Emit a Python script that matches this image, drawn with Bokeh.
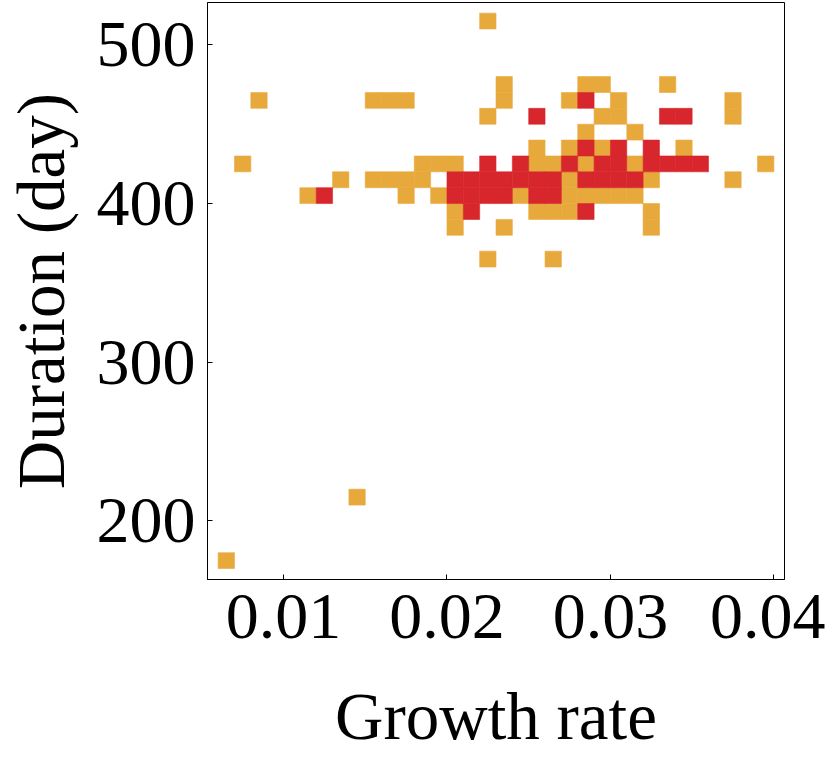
from bokeh.plotting import figure
from bokeh.models import FixedTicker, ColumnDataSource
from bokeh.embed import file_html
from bokeh.resources import INLINE

# Bin size of the 2D histogram
bin_rate = 0.001
bin_days = 10

# Cells with a single count (orange): bin centres
one_rate = [0.0225,
            0.0235, 0.0285, 0.0295, 0.0335,
            0.0085, 0.0155, 0.0165, 0.0175, 0.0235, 0.0275, 0.0305, 0.0375,
            0.0225, 0.0295, 0.0305, 0.0375,
            0.0285, 0.0315,
            0.0255, 0.0275, 0.0295, 0.0345,
            0.0075, 0.0185, 0.0195, 0.0205, 0.0255, 0.0265, 0.0285, 0.0315, 0.0395,
            0.0135, 0.0155, 0.0165, 0.0175, 0.0185, 0.0275, 0.0325, 0.0375,
            0.0115, 0.0175, 0.0195, 0.0245, 0.0275, 0.0285, 0.0295, 0.0305, 0.0315,
            0.0205, 0.0255, 0.0265, 0.0275, 0.0325,
            0.0205, 0.0235, 0.0325,
            0.0225, 0.0265,
            0.0145,
            0.0065]
one_days = [515,
            475, 475, 475, 475,
            465, 465, 465, 465, 465, 465, 465, 465,
            455, 455, 455, 455,
            445, 445,
            435, 435, 435, 435,
            425, 425, 425, 425, 425, 425, 425, 425, 425,
            415, 415, 415, 415, 415, 415, 415, 415,
            405, 405, 405, 405, 405, 405, 405, 405, 405,
            395, 395, 395, 395, 395,
            385, 385, 385,
            365, 365,
            215,
            175]

# Cells with higher counts (red): bin centres
two_rate = [0.0285,
            0.0255, 0.0335, 0.0345,
            0.0285, 0.0305, 0.0325,
            0.0225, 0.0245, 0.0275, 0.0295, 0.0305, 0.0325, 0.0335, 0.0345, 0.0355,
            0.0205, 0.0215, 0.0225, 0.0235, 0.0245, 0.0255, 0.0265,
            0.0285, 0.0295, 0.0305, 0.0315,
            0.0125, 0.0205, 0.0215, 0.0225, 0.0235, 0.0255, 0.0265,
            0.0215, 0.0285]
two_days = [465,
            455, 455, 455,
            435, 435, 435,
            425, 425, 425, 425, 425, 425, 425, 425, 425,
            415, 415, 415, 415, 415, 415, 415,
            415, 415, 415, 415,
            405, 405, 405, 405, 405, 405, 405,
            395, 395]

x_ticks = [0.01, 0.02, 0.03, 0.04]
y_ticks = [200, 300, 400, 500]

FONT = "Liberation Serif"
ORANGE = "#E8A93C"
RED = "#D7262C"

p = figure(width=825, height=756,
           x_range=(0.005349, 0.04065), y_range=(163.1, 526.7),
           output_backend="svg", toolbar_location=None,
           min_border_left=207, min_border_right=41,
           min_border_top=2, min_border_bottom=177)

src1 = ColumnDataSource(dict(x=one_rate, y=one_days))
src2 = ColumnDataSource(dict(x=two_rate, y=two_days))
p.rect(x="x", y="y", width=bin_rate, height=bin_days, source=src1,
       fill_color=ORANGE, line_color=ORANGE, line_width=0.6)
p.rect(x="x", y="y", width=bin_rate, height=bin_days, source=src2,
       fill_color=RED, line_color=RED, line_width=0.6)

p.xgrid.visible = False
p.ygrid.visible = False
p.outline_line_color = "black"
p.outline_line_width = 1
p.background_fill_color = "white"
p.border_fill_color = "white"

p.xaxis.ticker = FixedTicker(ticks=x_ticks)
p.yaxis.ticker = FixedTicker(ticks=y_ticks)
p.xaxis.axis_label = "Growth rate"
p.yaxis.axis_label = "Duration (day)"

for ax in (p.xaxis, p.yaxis):
    ax.axis_label_text_font = FONT
    ax.axis_label_text_font_size = "67px"
    ax.axis_label_text_font_style = "normal"
    ax.axis_label_text_color = "black"
    ax.major_label_text_font = FONT
    ax.major_label_text_font_size = "66px"
    ax.major_label_text_color = "black"
    ax.major_tick_in = 5
    ax.major_tick_out = 0
    ax.minor_tick_line_color = None
    ax.axis_line_color = "black"
    ax.major_tick_line_color = "black"

p.xaxis.major_label_standoff = 15
p.xaxis.axis_label_standoff = 38
p.yaxis.major_label_standoff = 12
p.yaxis.axis_label_standoff = 16

open("out.html", "w").write(file_html(p, INLINE))
